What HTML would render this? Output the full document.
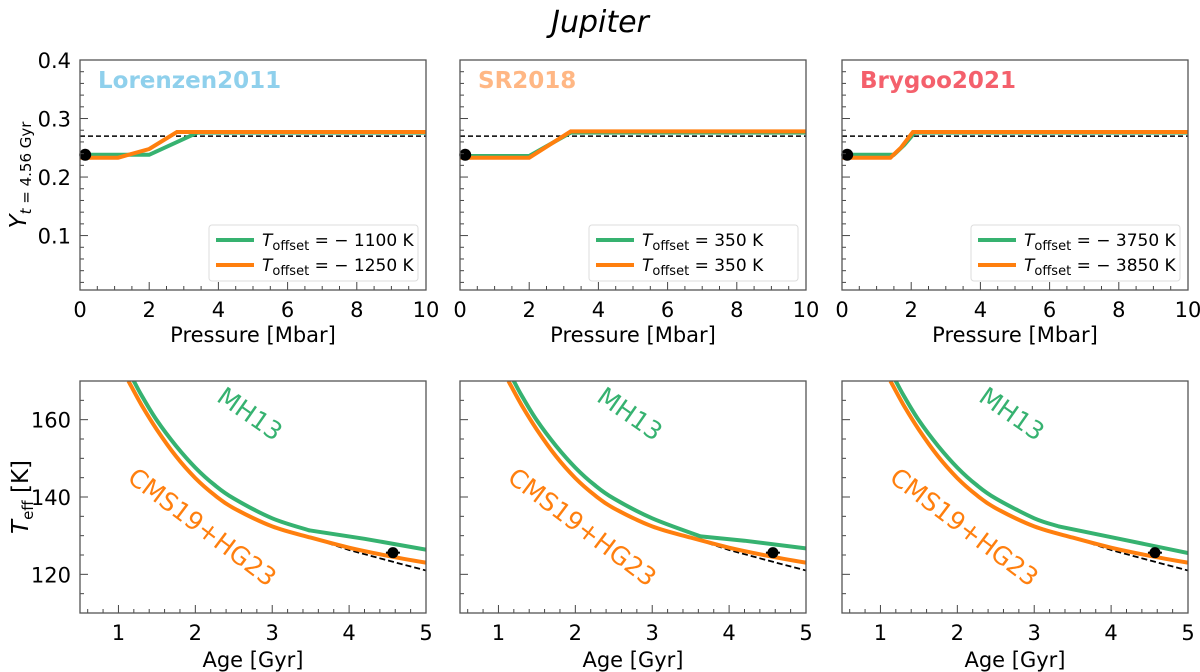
<!DOCTYPE html>
<html><head><meta charset="utf-8"><style>
body{margin:0;background:#fff;width:1200px;height:672px;overflow:hidden}
svg{display:block;font-family:"DejaVu Sans","Liberation Sans",sans-serif}
</style></head><body>
<svg id="fig" width="1200" height="672">
<text x="600" y="32" text-anchor="middle" font-size="30" font-style="italic">Jupiter</text>
</svg>
<script>
// ---- data ----
const panelNames = ["Lorenzen2011","SR2018","Brygoo2021"];
const panelColors = ["#8fd0ec","#ffb784","#f4606c"];
const legendGreen = ["\u2212 1100","350","\u2212 3750"];
const legendOrange = ["\u2212 1250","350","\u2212 3850"];
const yP1 = [0,2,3.4,10];            const yG1 = [0.238,0.238,0.276,0.276];
const yOP1 = [0,1.1,2,2.8,10];       const yO1 = [0.233,0.233,0.248,0.277,0.277];
const yP2 = [0,2,3.2,10];            const yG2 = [0.236,0.236,0.276,0.276];
const yOP2 = [0,2,3.2,10];           const yO2 = [0.233,0.233,0.278,0.278];
const yP3 = [0,1.5,1.8,2.1,10];      const yG3 = [0.238,0.238,0.255,0.276,0.276];
const yOP3 = [0,1.4,1.7,2.05,10];    const yO3 = [0.233,0.233,0.25,0.277,0.277];
const yHeDash = 0.270;
const yObsP = 0.15, yObs = 0.238;
const ageG = [1.2,1.3,1.5,1.75,2.0,2.25,2.5,3.0];
const tG = [170,166.3,159.8,153.2,147.6,143.1,139.6,134.5];
const kinkG = [3.48,3.63,3.32];
const kinkT = [131.4,129.8,132.4];
const midG = [129.2,128.7,128.8];
const endG = [126.4,126.7,125.5];
const ageO = [1.13,1.3,1.5,1.75,2.0,2.25,2.5,3.0,3.5,4.0,4.5,5.0];
const tO = [170,163.8,157.4,150.5,144.9,140.5,137.1,132.4,129.5,126.9,124.8,123.0];
const ageD = [3.72,4.0,4.5,5.0];
const tD = [128.1,126.3,123.6,121];
const obsAge = 4.57, obsT = 125.6;
const xTicksTop = [0,2,4,6,8,10];
const yTicksTop = [0.1,0.2,0.3,0.4];
const xTicksBot = [1,2,3,4,5];
const yTicksBot = [120,140,160];

// ---- drawing ----
const NS="http://www.w3.org/2000/svg";
const fig=document.getElementById('fig');
function el(tag,attrs,parent){const e=document.createElementNS(NS,tag);for(const k in attrs)e.setAttribute(k,attrs[k]);(parent||fig).appendChild(e);return e;}
const panelX=[80,460,842], PW=346;
const GREEN="#36b270", ORANGE="#ff7f0e";

function frame(g,x0,y0,w,h,xs,ys,xmin,xmax,xminor,ymin,ymax,yminor,xt,yt,fmtY,showY){
  for(let v=Math.ceil(xmin/xminor-1e-6)*xminor; v<=xmax+1e-9; v+=xminor){
    const X=xs(v); const major=xt.some(t=>Math.abs(t-v)<1e-6);
    const t=el('line',{x1:X,x2:X,y1:y0+h,y2:y0+h-(major?8:4),stroke:"#444","stroke-width":1},g);
    
    
  }
  for(let v=Math.ceil(ymin/yminor-1e-6)*yminor; v<=ymax+1e-9; v+=yminor){
    const Y=ys(v); const major=yt.some(t=>Math.abs(t-v)<1e-6);
    const t=el('line',{x1:x0,x2:x0+(major?8:4),y1:Y,y2:Y,stroke:"#444","stroke-width":1},g);
    
    
  }
  xt.forEach(v=>{const t=el('text',{x:xs(v),y:y0+h+27,"text-anchor":"middle","font-size":21},g);t.textContent=v;
    
    });
  if(showY) yt.forEach(v=>{const t=el('text',{x:x0-9,y:ys(v)+8,"text-anchor":"end","font-size":21},g);t.textContent=fmtY(v);
    
    });
  const r=el('rect',{x:x0,y:y0,width:w,height:h,fill:"none",stroke:"#555","stroke-width":1.3},g);
  
  
}
function path(g,xs,ys,X,Y,attrs,name,smooth){
  const P=X.map((v,i)=>[xs(v),ys(Y[i])]);
  let d="M"+P[0][0].toFixed(1)+","+P[0][1].toFixed(1);
  for(let i=0;i<P.length-1;i++){
    if(!smooth){d+="L"+P[i+1][0].toFixed(1)+","+P[i+1][1].toFixed(1);continue;}
    const p0=P[Math.max(i-1,0)],p1=P[i],p2=P[i+1],p3=P[Math.min(i+2,P.length-1)];
    const c1=[p1[0]+(p2[0]-p0[0])/6,p1[1]+(p2[1]-p0[1])/6];
    const c2=[p2[0]-(p3[0]-p1[0])/6,p2[1]-(p3[1]-p1[1])/6];
    d+="C"+c1.map(v=>v.toFixed(1))+" "+c2.map(v=>v.toFixed(1))+" "+p2.map(v=>v.toFixed(1));
  }
  const p=el('path',Object.assign({d:d,fill:"none"},attrs),g);
  
  
  return p;
}
const topG=[[yP1,yG1],[yP2,yG2],[yP3,yG3]];
const topO=[[yOP1,yO1],[yOP2,yO2],[yOP3,yO3]];

for(let i=0;i<3;i++){
  const x0=panelX[i];
  // ---- top panel ----
  const y0=60,h=230, ymin=0.007,ymax=0.4;
  const xs=v=>x0+v/10*PW, ys=v=>y0+h-(v-ymin)/(ymax-ymin)*h;
  const g=el('g',{});
  
  
  const clipId='ct'+i;
  const cp=el('clipPath',{id:clipId},g);el('rect',{x:x0,y:y0,width:PW,height:h},cp);
  const cg=el('g',{"clip-path":"url(#"+clipId+")"},g);
  path(cg,xs,ys,[0,10],[yHeDash,yHeDash],{stroke:"#000","stroke-width":1.5,"stroke-dasharray":"5,3"},'protosolar-helium-dashed');
  path(cg,xs,ys,topG[i][0],topG[i][1],{stroke:GREEN,"stroke-width":4},'helium-green-line');
  path(cg,xs,ys,topO[i][0],topO[i][1],{stroke:ORANGE,"stroke-width":4},'helium-orange-line');
  const dot=el('circle',{cx:xs(yObsP),cy:ys(yObs),r:6,fill:"#000"},g);
  
  
  frame(g,x0,y0,PW,h,xs,ys,0,10,0.5,ymin,ymax,0.02,xTicksTop,yTicksTop,v=>v.toFixed(1),i==0);
  const nm=el('text',{x:x0+18,y:y0+28,"font-size":23,"font-weight":"bold",fill:panelColors[i]},g);nm.textContent=panelNames[i];
  
  
  const xl=el('text',{x:x0+PW/2,y:y0+h+52,"text-anchor":"middle","font-size":21},g);xl.textContent="Pressure [Mbar]";
  
  
  // legend
  const lx=x0+PW-217, ly=225;
  const lg=el('g',{},g);
  
  
  el('rect',{x:lx,y:ly,width:209,height:56,rx:3,fill:"#fff",stroke:"#ddd"},lg);
  [[GREEN,legendGreen[i]],[ORANGE,legendOrange[i]]].forEach((e,k)=>{
    const yy=ly+15+k*25;
    const ln=el('line',{x1:lx+7,x2:lx+45,y1:yy,y2:yy,stroke:e[0],"stroke-width":4},lg);
    
    
    const t=el('text',{x:lx+53,y:yy+6,"font-size":17},lg);
    t.innerHTML='<tspan font-style="italic">T</tspan><tspan font-size="13" dy="4">offset</tspan><tspan dy="-4"> = '+e[1]+' K</tspan>';
    
    
  });

  // ---- bottom panel ----
  const by0=381,bh=232,bmin=110,bmax=170;
  const bxs=v=>x0+(v-0.5)/4.5*PW, bys=v=>by0+bh-(v-bmin)/(bmax-bmin)*bh;
  const b=el('g',{});
  
  
  const cid='cb'+i;
  const cp2=el('clipPath',{id:cid},b);el('rect',{x:x0,y:by0,width:PW,height:bh},cp2);
  const bg=el('g',{"clip-path":"url(#"+cid+")"},b);
  const gA=[],gT=[];
  ageG.forEach((a,k)=>{if(a<kinkG[i]-0.25){gA.push(a);gT.push(tG[k]);}});
  gA.push(kinkG[i]);gT.push(kinkT[i]);
  const aftA=[kinkG[i],4.2,5],aftT=[kinkT[i],midG[i],endG[i]];
  path(bg,bxs,bys,ageD,tD,{stroke:"#000","stroke-width":1.8,"stroke-dasharray":"6,3"},'teff-dashed-reference');
  path(bg,bxs,bys,ageO,tO,{stroke:ORANGE,"stroke-width":4,"stroke-linejoin":"round"},'cms19-hg23-curve',true);
  path(bg,bxs,bys,gA,gT,{stroke:GREEN,"stroke-width":4,"stroke-linejoin":"round","stroke-linecap":"round"},'mh13-curve',true);
  path(bg,bxs,bys,aftA,aftT,{stroke:GREEN,"stroke-width":4,"stroke-linejoin":"round"},'mh13-curve-late',false);
  const eb=el('line',{x1:bxs(obsAge)-7,x2:bxs(obsAge)+7,y1:bys(obsT),y2:bys(obsT),stroke:"#000","stroke-width":2},b);
  
  
  const od=el('circle',{cx:bxs(obsAge),cy:bys(obsT),r:5.5,fill:"#000"},b);
  
  
  frame(b,x0,by0,PW,bh,bxs,bys,0.5,5,0.2,bmin,bmax,5,xTicksBot,yTicksBot,v=>v,i==0);
  const m=el('text',{x:0,y:0,"font-size":25,fill:GREEN,transform:"translate("+(x0+165)+","+(by0+40)+") rotate(35)","text-anchor":"middle"},b);
  m.textContent="MH13";
  
  
  const c=el('text',{x:0,y:0,"font-size":25,fill:ORANGE,transform:"translate("+(x0+117)+","+(by0+153)+") rotate(37)","text-anchor":"middle"},b);
  c.textContent="CMS19+HG23";
  
  
  const bxl=el('text',{x:x0+PW/2,y:by0+bh+54,"text-anchor":"middle","font-size":21},b);bxl.textContent="Age [Gyr]";
  
  
}
// y-axis titles
const yt1=el('text',{x:0,y:0,"font-size":23,transform:"translate(26,175) rotate(-90)","text-anchor":"middle"});
yt1.innerHTML='<tspan font-style="italic">Y</tspan><tspan font-size="15" dy="5"><tspan font-style="italic">t</tspan> = 4.56 Gyr</tspan>';


const yt2=el('text',{x:0,y:0,"font-size":23,transform:"translate(28,497) rotate(-90)","text-anchor":"middle"});
yt2.innerHTML='<tspan font-style="italic">T</tspan><tspan font-size="15" dy="5">eff</tspan><tspan dy="-5"> [K]</tspan>';


</script>
</body></html>
